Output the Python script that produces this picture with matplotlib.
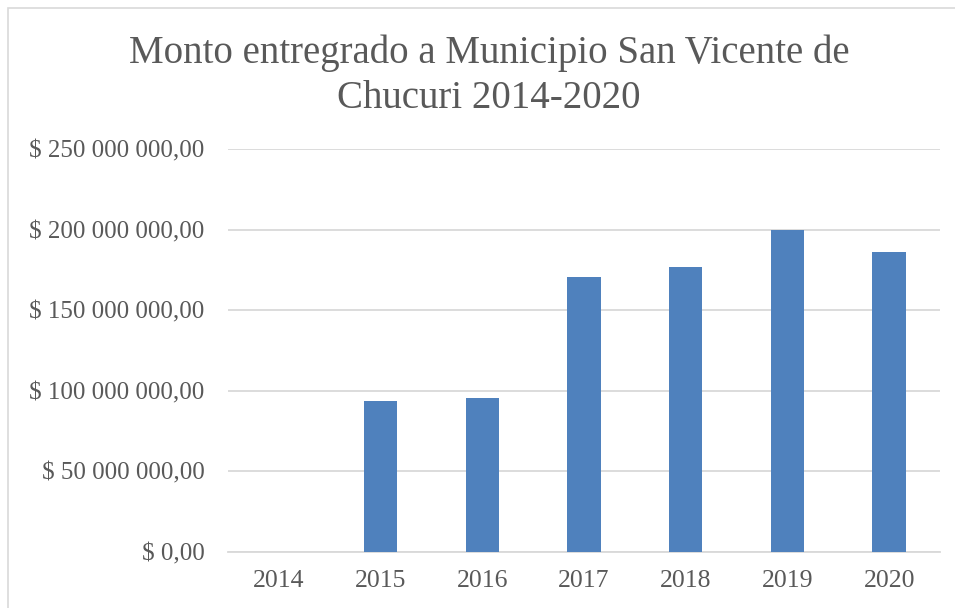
import matplotlib
matplotlib.use("Agg")
import matplotlib.pyplot as plt
from matplotlib.patches import Rectangle
from matplotlib.ticker import FuncFormatter

# data
years = ["2014", "2015", "2016", "2017", "2018", "2019", "2020"]
montos = [0, 93.7e6, 95.5e6, 170.6e6, 176.8e6, 199.8e6, 186.3e6]
y_ticks = [0, 50e6, 100e6, 150e6, 200e6, 250e6]

titulo = "Monto entregrado a Municipio San Vicente de\nChucuri 2014-2020"

plt.rcParams["font.family"] = ["Liberation Serif", "DejaVu Serif"]
gris = "#595959"

W, H = 955, 608
fig = plt.figure(figsize=(W / 100, H / 100), dpi=100)
ax = fig.add_axes([228 / W, 1 - 552 / H, 712 / W, 403 / H])

# outer frame of the chart
fig.patches.append(Rectangle((8 / W, -0.1), 1.2, 1 - 8 / H + 0.1, transform=fig.transFigure,
                             fill=False, edgecolor="#D9D9D9", linewidth=1.2))

x = range(len(years))
ax.bar(x, montos, width=0.33, color="#4F81BD", zorder=3)

def pesos(v, pos):
    if v == 0:
        return "$ 0,00"
    s = f"{int(v):,}".replace(",", " ")
    return f"$ {s},00"

ax.set_ylim(0, 250e6)
ax.set_xlim(-0.5, len(years) - 0.5)
ax.set_yticks(y_ticks)
ax.yaxis.set_major_formatter(FuncFormatter(pesos))
ax.set_xticks(list(x))
ax.set_xticklabels(years)
ax.grid(axis="y", color="#D9D9D9", linewidth=1.3, zorder=0)
for s in ["top", "right", "left"]:
    ax.spines[s].set_visible(False)
ax.spines["bottom"].set_color("#D9D9D9")
ax.spines["bottom"].set_linewidth(1.3)
ax.tick_params(axis="y", length=0, labelsize=18, labelcolor=gris, pad=17)
ax.tick_params(axis="x", length=0, labelsize=18.5, labelcolor=gris, pad=13)

fig.text(489 / W, 1 - 76 / H, titulo, ha="center", va="center", fontsize=28,
         color=gris, linespacing=1.3)

fig.savefig("out.png", dpi=100)
